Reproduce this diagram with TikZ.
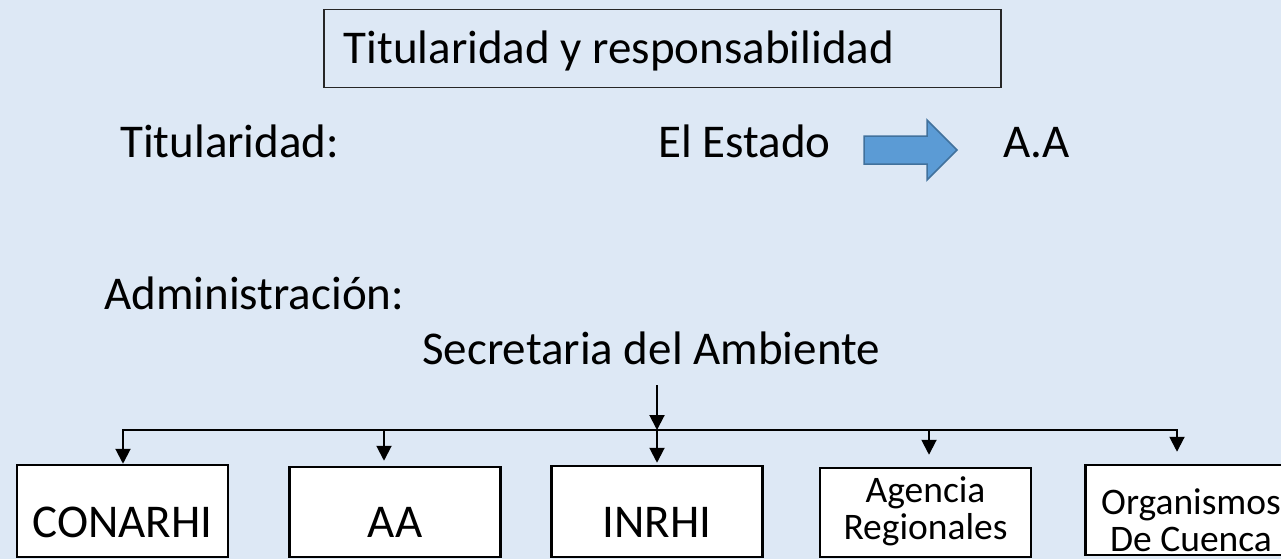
\documentclass[tikz,border=0pt]{standalone}
\usepackage{fontspec}
\setmainfont{Carlito}
\usetikzlibrary{arrows.meta}
\definecolor{bg}{RGB}{221,232,245}
\definecolor{arrfill}{RGB}{91,155,213}
\definecolor{arredge}{RGB}{65,113,156}
\begin{document}
\begin{tikzpicture}[x=1pt,y=-1pt,
  big/.style={font=\fontsize{47}{56}\selectfont},
  small/.style={font=\fontsize{37.5}{37}\selectfont},
  lbl/.style={big, inner sep=0pt, anchor=base west},
  orgbox/.style={draw=black, line width=2.5pt, fill=white, inner sep=0pt, minimum width=211pt},
  tip/.style={-{Triangle[length=15pt,width=15pt]}, line width=2pt}
]
\useasboundingbox (0,0) rectangle (1281,559);
\clip (0,0) rectangle (1281,559);
\fill[bg] (0,0) rectangle (1281,559);

% title
\node[draw=black!85, line width=1.5pt, anchor=north west, inner xsep=20pt, inner ysep=0pt,
      minimum height=78pt, text height=30pt, text depth=0pt, big]
      (title) at (323,9) {\makebox[637pt][l]{Titularidad y responsabilidad}};

% titularidad line
\node[lbl] (tit) at (120,157) {Titularidad:};
\node[lbl] (estado) at (658,157) {El Estado};
\node[lbl] (aa2) at (1003,157) {A.A};
\draw[fill=arrfill, draw=arredge, line width=1.5pt]
  (864,136) -- (927,136) -- (927,120) -- (957,150) -- (927,180) -- (927,164) -- (864,164) -- cycle;

% administracion
\node[lbl] (admin) at (104,309) {Administración:};
\node[lbl] (sec) at (422,364) {Secretaria del Ambiente};

% boxes
\node[orgbox, big, minimum height=92pt, text height=52pt, text depth=0pt] (conarhi) at (122.5,511) {CONARHI};
\node[orgbox, big, minimum height=90pt, text height=50pt, text depth=0pt] (aa) at (395,512) {AA};
\node[orgbox, big, minimum height=91pt, text height=51pt, text depth=0pt] (inrhi) at (657,511.5) {INRHI};
\node[orgbox, small, minimum height=89pt, text height=24pt, text depth=45pt] (agencia) at (925.5,512.5)
  {\vtop{\halign{\hfil#\hfil\cr Agencia\cr Regionales\cr}}};
\node[orgbox, small, minimum height=90pt, text height=44pt, text depth=36pt] (organismos) at (1191,510)
  {\vtop{\halign{\hfil#\hfil\cr Organismos\cr De Cuenca\cr}}};

% connectors
\coordinate (top) at (657,385);
\coordinate (j1) at (123,430);
\coordinate (j2) at (384,430);
\coordinate (j3) at (657,430);
\coordinate (j4) at (929,430);
\coordinate (j5) at (1177,430);

\draw[{Triangle[length=15pt,width=15pt]}-{Triangle[length=15pt,width=15pt]}, line width=2pt]
  (j1 |- conarhi.north) -- (j1) -- (j5) -- ([yshift=12pt]j5 |- organismos.north);
\draw[tip] (top) -- (j3);
\draw[tip] (j2) -- ([yshift=5pt]j2 |- aa.north);
\draw[tip] (j3) -- ([yshift=2pt]j3 |- inrhi.north);
\draw[tip] (j4) -- ([yshift=12pt]j4 |- agencia.north);
\end{tikzpicture}
\end{document}
